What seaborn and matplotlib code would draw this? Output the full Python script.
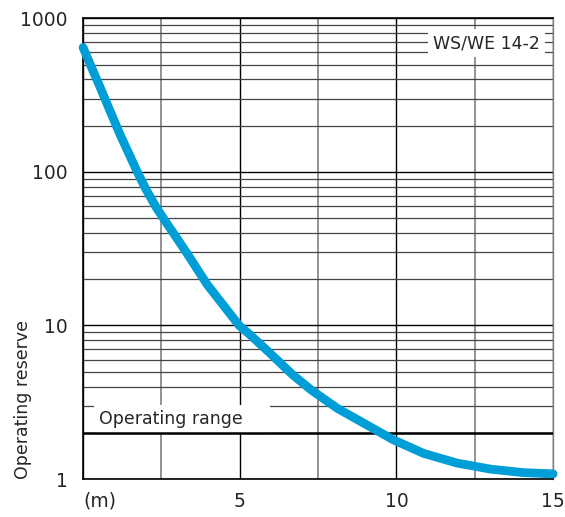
import matplotlib
matplotlib.use('Agg')
import matplotlib.pyplot as plt
import matplotlib.ticker as mticker
import pandas as pd
import seaborn as sns

# curve (distance in m, operating reserve)
distance = [0, 0.1, 0.28, 0.49, 0.78, 1.16, 1.73, 2.0, 2.35, 2.71, 2.97, 3.34,
            3.95, 4.98, 5.3, 5.91, 6.68, 7.28, 8.12, 9.9, 10.86, 11.93, 13.0,
            14.05, 15]
reserve = [646, 578, 474, 378, 273, 179, 100, 77.5, 58, 45, 37.6, 29,
           18.6, 10.0, 8.8, 6.76, 4.79, 3.8, 2.88, 1.8, 1.47, 1.27, 1.16,
           1.10, 1.08]
range_limit = 2
x_ticks = [0, 5, 10, 15]
x_labels = ['(m)', '5', '10', '15']
y_ticks = [1, 10, 100, 1000]
y_labels = ['1', '10', '100', '1000']

df = pd.DataFrame({'distance': distance, 'reserve': reserve})

sns.set_style('white')
plt.rcParams['font.family'] = ['DejaVu Sans']

fig = plt.figure(figsize=(5.65, 5.17), dpi=100)
ax = fig.add_axes([0.147, 0.0735, 0.832, 0.891])
ax.set_axisbelow(True)

sns.lineplot(data=df, x='distance', y='reserve', ax=ax, color='#009ED6',
             linewidth=6.3, solid_capstyle='round', solid_joinstyle='round',
             clip_on=False, zorder=6)

ax.set_yscale('log')
ax.set_xlim(0, 15)
ax.set_ylim(1, 1000)

# grid: black at 5 m / decades, grey in between
ax.set_xticks(x_ticks)
ax.set_xticklabels(x_labels)
ax.xaxis.set_minor_locator(mticker.FixedLocator([2.5, 7.5, 12.5]))
ax.set_yticks(y_ticks)
ax.set_yticklabels(y_labels)
ax.yaxis.set_minor_locator(mticker.LogLocator(base=10, subs=range(2, 10)))
ax.yaxis.set_minor_formatter(mticker.NullFormatter())
ax.grid(which='major', axis='both', color='black', linewidth=1.0)
ax.grid(which='minor', axis='x', color='#808080', linewidth=1.2)
ax.grid(which='minor', axis='y', color='#444444', linewidth=0.9)
ax.tick_params(which='both', length=0)
ax.tick_params(axis='y', pad=11, labelsize=13.5)
ax.tick_params(axis='x', pad=9, labelsize=13.5)
ax.get_xticklabels()[0].set_horizontalalignment('left')

ax.axhline(range_limit, color='black', linewidth=1.8, zorder=5)

for side in ['left', 'bottom', 'top']:
    ax.spines[side].set_color('black')
    ax.spines[side].set_linewidth(1.2)
ax.spines['right'].set_color('#808080')
ax.spines['right'].set_linewidth(1.0)

ax.set_xlabel('')
ax.set_ylabel('Operating reserve', fontsize=12.5, loc='bottom')
ax.yaxis.set_label_coords(-0.108, 0.0)

ax.text(0.5, 2.45, 'Operating range    ', fontsize=12.5, ha='left', va='center',
        zorder=4, bbox=dict(boxstyle='square,pad=0.3', facecolor='white', edgecolor='none'))
ax.text(0.972, 0.946, 'WS/WE 14-2', transform=ax.transAxes,
        fontsize=12.5, ha='right', va='center', zorder=4,
        bbox=dict(boxstyle='square,pad=0.3', facecolor='white', edgecolor='none'))

plt.savefig('out.png', dpi=100)
